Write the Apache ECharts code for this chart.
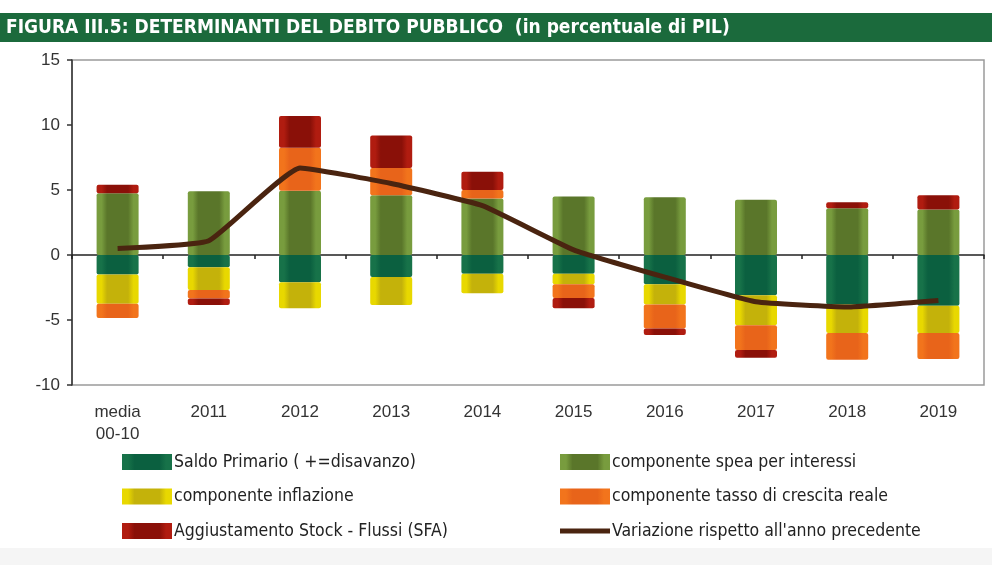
<!DOCTYPE html>
<html>
<head>
<meta charset="utf-8">
<script src="https://cdn.jsdelivr.net/npm/echarts@6/dist/echarts.min.js"></script>
<style>
  html, body { margin: 0; padding: 0; background: #fff; }
  #main { width: 992px; height: 565px; }
</style>
</head>
<body>
<div id="main"></div>
<script>
// anni / categorie
const categories = ["media\n00-10", "2011", "2012", "2013", "2014", "2015", "2016", "2017", "2018", "2019"];

// componenti (in % del PIL)
const saldoPrimario = [-1.5, -0.95, -2.1, -1.7, -1.45, -1.45, -2.25, -3.1, -3.8, -3.9];
const spesaInteressi = [4.75, 4.9, 4.95, 4.6, 4.35, 4.5, 4.45, 4.25, 3.6, 3.5];
const inflazione = [-2.25, -1.75, -2.0, -2.15, -1.5, -0.8, -1.55, -2.3, -2.2, -2.1];
const crescitaReale = [-1.1, -0.65, 3.3, 2.1, 0.65, -1.05, -1.85, -1.9, -2.05, -2.0];
const stockFlussi = [0.65, -0.5, 2.45, 2.5, 1.4, -0.8, -0.5, -0.6, 0.45, 1.1];
const variazione = [0.5, 1.1, 6.7, 5.5, 3.8, 0.4, -1.7, -3.6, -4.0, -3.5];

const yTicks = [-10, -5, 0, 5, 10, 15];

const names = [
  "Saldo Primario ( +=disavanzo)",
  "componente spea per interessi",
  "componente inflazione",
  "componente tasso di crescita reale",
  "Aggiustamento Stock - Flussi (SFA)",
  "Variazione rispetto all'anno precedente"
];

const narrow = "'Liberation Sans Narrow', 'DejaVu Sans Condensed', 'Liberation Sans', sans-serif";

// barre con bordo più chiaro e centro più scuro
function barSeries(name, data, inner, edge) {
  return {
    name: name,
    type: "bar",
    stack: "tot",
    barWidth: 42,
    data: data,
    itemStyle: {
      color: new echarts.graphic.LinearGradient(0, 0, 1, 0, [
        { offset: 0, color: edge },
        { offset: 0.12, color: edge },
        { offset: 0.25, color: inner },
        { offset: 0.75, color: inner },
        { offset: 0.88, color: edge },
        { offset: 1, color: edge }
      ]),
      borderRadius: 2
    }
  };
}

let myEchart = echarts.init(document.getElementById("main"));
let option = {
  animation: false,
  backgroundColor: "#fff",
  graphic: [
    { type: "rect", left: 0, top: 13, shape: { width: 992, height: 29 }, style: { fill: "#1b6a3c" } },
    { type: "rect", left: 0, top: 548, shape: { width: 992, height: 17 }, style: { fill: "#f5f5f5" } }
  ],
  title: {
    text: "FIGURA III.5: DETERMINANTI DEL DEBITO PUBBLICO  (in percentuale di PIL)",
    left: 6,
    top: 19,
    padding: 0,
    textStyle: {
      color: "#fff",
      fontSize: 19,
      fontWeight: "bold",
      fontFamily: "'DejaVu Sans Condensed', sans-serif"
    }
  },
  grid: {
    left: 72,
    right: 8,
    top: 60,
    bottom: 180,
    show: true,
    borderColor: "#9a9a9a",
    borderWidth: 1.5
  },
  legend: [
    {
      orient: "vertical",
      left: 117,
      top: 448,
      itemWidth: 50,
      itemHeight: 16,
      itemGap: 16.5,
      icon: "rect",
      textStyle: { fontSize: 17.5, color: "#222", fontFamily: narrow, padding: [0, 0, 0, -3] },
      data: [names[0], names[2], names[4]]
    },
    {
      orient: "vertical",
      left: 555,
      top: 448,
      itemWidth: 50,
      itemHeight: 16,
      itemGap: 16.5,
      icon: "rect",
      textStyle: { fontSize: 17.5, color: "#222", fontFamily: narrow, padding: [0, 0, 0, -3] },
      data: [names[1], names[3], { name: names[5], icon: "path://M0,0h50v5h-50z" }]
    }
  ],
  xAxis: [
    {
      type: "category",
      data: categories,
      position: "bottom",
      axisLine: { show: false, onZero: false },
      axisTick: { show: false },
      axisLabel: {
        margin: 16,
        fontSize: 17,
        color: "#333",
        lineHeight: 22,
        fontFamily: "'Liberation Sans', Arial, sans-serif"
      }
    },
    {
      type: "category",
      data: categories,
      position: "bottom",
      axisLine: { show: true, onZero: true, lineStyle: { color: "#222", width: 1.5 } },
      axisTick: { show: true, length: 4, lineStyle: { color: "#222", width: 1.5 } },
      axisLabel: { show: false }
    }
  ],
  yAxis: {
    type: "value",
    min: -10,
    max: 15,
    interval: 5,
    axisLine: { show: true, lineStyle: { color: "#333", width: 1.5 } },
    axisTick: { show: true, length: 5, lineStyle: { color: "#333", width: 1.5 } },
    splitLine: { show: false },
    axisLabel: {
      margin: 12,
      fontSize: 17,
      color: "#333",
      fontFamily: "'Liberation Sans', Arial, sans-serif",
      formatter: function (v) { return yTicks.indexOf(v) >= 0 ? String(v) : ""; }
    }
  },
  series: [
    barSeries(names[0], saldoPrimario, "#0b6040", "#177249"),
    barSeries(names[1], spesaInteressi, "#5a762a", "#789c3e"),
    barSeries(names[2], inflazione, "#c4b20a", "#e8d800"),
    barSeries(names[3], crescitaReale, "#e8641a", "#f2741c"),
    barSeries(names[4], stockFlussi, "#8a1008", "#b01c10"),
    {
      name: names[5],
      type: "line",
      data: variazione,
      smooth: 0.12,
      showSymbol: false,
      symbol: "none",
      z: 5,
      itemStyle: { color: "#4a2410" },
      lineStyle: { color: "#4a2410", width: 5 }
    }
  ]
};
myEchart.setOption(option, true);
</script>
</body>
</html>
